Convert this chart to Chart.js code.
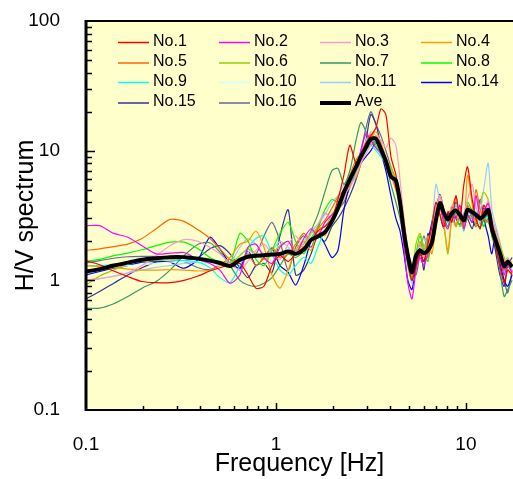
<!DOCTYPE html>
<html>
<head>
<meta charset="utf-8">
<script src="https://cdn.jsdelivr.net/npm/chart.js@4.4.1/dist/chart.umd.min.js"></script>
<style>
  html, body { margin: 0; padding: 0; background: #ffffff; }
  #wrap { width: 513px; height: 479px; }
</style>
</head>
<body>
<div id="wrap"><canvas id="hv" width="513" height="479"></canvas></div>
<script>
// Frequency samples [Hz]
const frequencies = [
  0.1, 0.118, 0.140, 0.166, 0.197, 0.234, 0.277, 0.328, 0.389, 0.449, 0.507,
  0.573, 0.646, 0.712, 0.785, 0.865, 0.953, 1.05, 1.16, 1.27, 1.40, 1.53,
  1.66, 1.81, 1.97, 2.12, 2.28, 2.45, 2.64, 2.80, 2.98, 3.16, 3.36,
  3.57, 3.79, 4.03, 4.28, 4.50, 4.72, 4.95, 5.20, 5.46, 5.73, 6.01,
  6.31, 6.62, 6.95, 7.30, 7.66, 8.04, 8.44, 8.86, 9.30, 9.76, 10.2,
  10.8, 11.3, 11.9, 12.4, 13.1, 13.7, 14.4, 15.1, 15.9, 16.6, 17.5
];

// H/V spectral ratios of each station
const no1 = [
  1.42, 1.32, 1.18, 1.07, 0.98, 0.96, 0.96, 1.0, 1.08, 1.18, 1.25,
  1.32, 1.35, 1.1, 0.87, 0.9, 1.3, 1.55, 1.4, 1.6, 1.8, 2.0,
  2.4, 2.6, 3.0, 4.2, 6.5, 11.0, 8.0, 9.5, 11.5, 13.0, 15.0,
  21.0, 19.0, 9.0, 6.5, 4.0, 2.2, 1.4, 1.0, 1.3, 1.6, 1.4,
  1.9, 2.6, 4.0, 3.2, 2.6, 3.4, 2.8, 4.5, 3.0, 5.5, 7.5,
  4.2, 3.0, 2.5, 3.8, 3.2, 2.4, 1.8, 1.3, 0.95, 1.2, 1.1
];
const no2 = [
  2.64, 2.64, 2.3, 2.15, 1.85, 1.6, 1.62, 1.64, 1.45, 1.35, 1.2,
  0.95, 1.1, 1.8, 1.9, 1.5, 1.35, 1.8, 2.0, 1.6, 2.1, 2.5,
  2.2, 2.8, 3.2, 3.6, 4.5, 6.0, 7.5, 10.0, 13.5, 12.0, 10.5,
  9.5, 8.0, 6.5, 5.5, 3.5, 1.8, 0.95, 0.72, 1.2, 1.5, 1.3,
  1.6, 1.9, 3.0, 3.6, 2.8, 2.5, 3.2, 3.0, 3.8, 2.5, 3.2,
  2.8, 4.5, 3.0, 3.4, 3.9, 2.9, 2.0, 1.5, 1.1, 1.3, 1.15
];
const no3 = [
  1.01, 1.03, 1.07, 1.14, 1.3, 1.55, 1.85, 2.06, 2.0, 1.8, 1.6,
  1.35, 1.2, 1.4, 1.7, 1.9, 1.6, 1.45, 1.9, 2.2, 1.8, 2.3,
  2.7, 3.3, 3.0, 3.6, 4.6, 5.2, 6.5, 8.0, 9.5, 11.0, 13.0,
  12.0, 10.5, 12.5, 11.0, 6.0, 3.0, 1.7, 1.2, 1.5, 1.9, 1.5,
  1.8, 2.4, 3.6, 4.5, 3.4, 3.0, 3.8, 3.4, 3.0, 3.3, 4.2,
  5.5, 3.6, 3.2, 3.0, 4.2, 3.0, 2.4, 1.8, 1.4, 1.5, 1.3
];
const no4 = [
  1.3, 1.28, 1.25, 1.22, 1.2, 1.2, 1.21, 1.2, 1.18, 1.2, 1.3,
  1.5, 1.9, 2.0, 2.4, 1.8, 1.1, 0.87, 1.2, 1.7, 2.0, 1.7,
  2.4, 2.2, 3.0, 3.4, 4.3, 5.5, 6.2, 8.0, 10.5, 12.5, 14.0,
  11.5, 9.0, 7.0, 6.0, 4.5, 2.8, 1.5, 1.1, 1.4, 2.0, 1.5,
  2.2, 1.6, 2.6, 3.8, 2.7, 1.7, 3.0, 2.6, 3.6, 2.5, 6.5,
  3.8, 2.6, 3.4, 3.0, 4.0, 2.8, 2.2, 1.7, 1.3, 1.2, 1.1
];
const no5 = [
  1.70, 1.75, 1.82, 1.9, 2.1, 2.5, 2.95, 2.85, 2.45, 2.1, 1.75,
  1.45, 1.4, 1.6, 1.3, 1.5, 1.8, 1.5, 1.6, 1.9, 2.3, 2.0,
  2.5, 2.9, 3.6, 4.4, 5.0, 6.5, 8.5, 9.5, 11.0, 13.5, 12.0,
  10.0, 8.0, 6.5, 5.0, 3.8, 2.2, 1.4, 1.1, 1.5, 1.9, 1.6,
  1.5, 2.0, 3.5, 4.5, 3.2, 3.0, 3.6, 4.4, 3.0, 2.6, 3.8,
  3.2, 5.0, 3.5, 3.0, 2.8, 2.4, 2.0, 1.5, 1.2, 1.3, 1.15
];
const no6 = [
  0.92, 1.08, 1.2, 1.35, 1.4, 1.42, 1.45, 1.48, 1.45, 1.42, 1.4,
  1.35, 1.55, 1.75, 1.6, 1.45, 1.6, 1.85, 2.0, 1.7, 1.9, 2.3,
  2.5, 2.6, 3.2, 3.8, 4.6, 5.8, 7.0, 9.0, 11.5, 13.0, 12.5,
  10.0, 8.5, 7.5, 5.8, 4.0, 2.5, 1.5, 1.15, 1.9, 2.3, 1.8,
  1.6, 2.4, 3.4, 3.2, 2.6, 1.6, 3.0, 3.6, 2.9, 2.5, 3.2,
  3.0, 2.8, 4.0, 4.8, 4.2, 3.0, 2.4, 1.9, 1.5, 1.3, 1.4
];
const no7 = [
  0.61, 0.61, 0.66, 0.75, 0.87, 0.98, 1.2, 1.55, 1.9, 1.95, 1.65,
  1.3, 1.0, 0.92, 0.9, 0.95, 1.05, 1.3, 1.6, 1.5, 1.7, 2.4,
  3.2, 4.8, 7.0, 7.3, 5.5, 7.0, 12.0, 16.5, 14.0, 11.0, 12.0,
  10.5, 8.0, 5.5, 4.0, 3.0, 2.0, 1.3, 1.0, 1.4, 1.7, 1.5,
  2.0, 2.4, 3.3, 3.6, 3.0, 2.6, 3.1, 3.3, 3.5, 2.6, 3.0,
  3.2, 2.7, 2.6, 2.9, 3.3, 2.2, 1.8, 1.2, 0.75, 0.85, 1.0
];
const no8 = [
  1.40, 1.45, 1.55, 1.62, 1.72, 1.85, 1.97, 1.97, 1.75, 1.5, 1.38,
  1.35, 2.3, 2.0, 1.45, 1.3, 1.7, 2.3, 2.8, 2.0, 1.6, 2.1,
  2.6, 3.5, 4.2, 4.0, 4.5, 5.8, 8.0, 9.5, 10.5, 12.5, 11.0,
  9.5, 8.0, 6.8, 5.5, 3.8, 2.3, 1.4, 1.05, 1.6, 2.2, 1.7,
  1.4, 2.2, 3.5, 3.9, 3.0, 2.6, 3.6, 3.2, 2.6, 3.0, 4.0,
  3.4, 2.8, 3.2, 2.6, 3.5, 2.5, 2.0, 1.6, 1.2, 1.45, 1.25
];
const no9 = [
  1.3, 1.3, 1.32, 1.38, 1.42, 1.45, 1.45, 1.42, 1.38, 1.25, 1.05,
  0.96, 1.3, 1.75, 2.1, 2.2, 1.6, 1.2, 1.1, 1.3, 1.5, 1.35,
  1.8, 2.4, 2.8, 3.4, 4.4, 5.5, 7.0, 8.5, 10.0, 11.0, 10.0,
  9.0, 8.0, 7.2, 6.0, 4.2, 2.6, 1.5, 1.1, 1.6, 1.7, 1.9,
  1.5, 2.3, 3.8, 3.6, 3.2, 2.8, 3.0, 3.9, 3.2, 2.4, 3.6,
  3.1, 3.4, 2.7, 3.5, 3.0, 2.5, 2.1, 1.5, 1.15, 1.35, 1.2
];
const no10 = [
  1.2, 1.22, 1.26, 1.3, 1.32, 1.35, 1.38, 1.4, 1.4, 1.35, 1.3,
  1.25, 1.6, 1.7, 1.5, 1.3, 1.5, 1.9, 1.7, 1.5, 1.9, 2.2,
  2.3, 2.6, 3.0, 3.8, 5.0, 6.0, 7.5, 9.0, 10.5, 12.0, 12.5,
  11.0, 9.0, 6.5, 6.0, 4.5, 2.6, 1.6, 1.2, 1.7, 1.8, 1.7,
  1.8, 2.2, 3.3, 4.1, 3.2, 3.0, 3.3, 3.6, 3.2, 2.9, 3.4,
  3.4, 3.2, 3.0, 3.4, 3.7, 2.8, 2.2, 1.7, 1.3, 1.45, 1.3
];
const no11 = [
  0.99, 1.03, 1.08, 1.14, 1.2, 1.26, 1.3, 1.35, 1.38, 1.35, 1.3,
  1.35, 1.8, 2.1, 1.9, 1.6, 1.7, 2.0, 1.8, 1.6, 2.0, 2.4,
  2.7, 3.2, 4.0, 4.5, 5.5, 6.2, 7.5, 9.5, 12.0, 14.0, 13.0,
  10.5, 8.5, 7.0, 5.0, 3.5, 2.2, 1.3, 0.95, 1.5, 1.9, 2.1,
  1.9, 2.5, 5.5, 4.0, 3.0, 2.8, 3.5, 3.8, 3.3, 3.0, 3.2,
  3.6, 3.0, 3.4, 5.0, 8.0, 3.5, 2.6, 2.0, 1.4, 1.2, 1.3
];
const no14 = [
  1.10, 1.17, 1.24, 1.3, 1.38, 1.40, 1.38, 1.24, 1.45, 2.15, 1.75,
  1.35, 1.25, 1.7, 1.3, 1.5, 1.75, 1.3, 1.15, 0.92, 1.3, 2.0,
  2.3, 1.9, 1.5, 1.7, 3.5, 5.5, 7.0, 8.0, 9.0, 10.0, 11.5,
  9.5, 7.0, 4.5, 3.0, 2.4, 1.6, 1.0, 0.85, 1.3, 1.6, 1.4,
  2.0, 2.8, 3.8, 3.2, 2.5, 3.3, 2.9, 4.0, 3.0, 2.7, 3.6,
  3.0, 2.6, 4.2, 3.0, 2.2, 1.6, 2.5, 1.4, 1.0, 0.9, 1.1
];
const no15 = [
  0.72, 0.82, 0.95, 1.1, 1.25, 1.38, 1.40, 1.42, 1.5, 1.75, 1.85,
  1.6, 1.25, 1.05, 1.3, 1.35, 1.15, 2.2, 3.5, 1.1, 1.2, 1.6,
  2.2, 2.0, 2.6, 3.0, 3.6, 4.5, 6.0, 8.0, 12.0, 19.0, 16.0,
  11.0, 8.5, 6.5, 5.5, 4.0, 2.4, 1.5, 1.1, 1.3, 1.8, 1.2,
  2.3, 1.9, 3.4, 4.6, 3.5, 2.9, 3.7, 3.0, 2.7, 3.3, 3.0,
  2.5, 3.2, 2.9, 3.6, 3.2, 2.5, 1.6, 1.1, 0.9, 1.3, 1.5
];
const no16 = [
  1.36, 1.42, 1.48, 1.52, 1.53, 1.53, 1.50, 1.40, 1.25, 1.21, 1.32,
  1.45, 1.2, 1.7, 1.6, 2.2, 2.8, 2.0, 1.2, 1.8, 2.2, 1.8,
  2.5, 3.3, 3.0, 3.5, 4.0, 5.2, 7.0, 10.0, 15.0, 20.0, 16.0,
  13.0, 10.0, 7.5, 6.0, 4.5, 2.8, 1.7, 1.3, 1.1, 1.6, 2.2,
  1.7, 2.0, 3.0, 3.8, 3.0, 3.2, 3.5, 2.6, 3.2, 3.0, 3.2,
  2.8, 3.0, 3.1, 2.6, 3.0, 2.2, 1.7, 1.3, 1.0, 0.8, 1.2
];
// Average over all stations
const average = [
  1.17, 1.22, 1.30, 1.37, 1.44, 1.48, 1.51, 1.51, 1.47, 1.42, 1.36,
  1.29, 1.44, 1.52, 1.55, 1.56, 1.58, 1.60, 1.67, 1.60, 1.72, 2.05,
  2.18, 2.35, 2.85, 3.6, 4.8, 6.0, 7.5, 9.0, 10.6, 12.3, 12.4,
  10.3, 8.3, 6.3, 5.9, 4.0, 2.35, 1.55, 1.15, 1.55, 1.7, 1.62,
  1.7, 1.95, 2.9, 3.95, 3.3, 2.95, 3.3, 3.45, 3.2, 2.9, 3.5,
  3.35, 3.2, 3.0, 3.15, 3.5, 2.5, 2.0, 1.63, 1.28, 1.39, 1.27
];

const stationNames = ['No.1', 'No.2', 'No.3', 'No.4', 'No.5', 'No.6', 'No.7',
  'No.8', 'No.9', 'No.10', 'No.11', 'No.14', 'No.15', 'No.16'];
const stationValues = [no1, no2, no3, no4, no5, no6, no7, no8, no9, no10, no11, no14, no15, no16];
const stationColors = ['#FF0000', '#FF00FF', '#FF99CC', '#FF9900', '#FF6600', '#99CC00', '#339966',
  '#00FF00', '#00FFFF', '#CCFFFF', '#99CCFF', '#0000FF', '#333399', '#666699'];
const averageName = 'Ave';

const xTickValues = [0.1, 1, 10];
const yTickValues = [0.1, 1, 10, 100];
const xRange = [0.1, 17.7];
const yRange = [0.1, 100];

const FONT = "'Liberation Sans', Arial, Helvetica, sans-serif";

function toPoints(values) {
  return frequencies.map((f, i) => ({ x: f, y: values[i] }));
}

const datasets = stationNames.map((name, k) => ({
  label: name,
  data: toPoints(stationValues[k]),
  borderColor: stationColors[k],
  borderWidth: 1.2,
  pointRadius: 0,
  tension: 0.25,
  fill: false
}));
datasets.push({
  label: averageName,
  data: toPoints(average),
  borderColor: '#000000',
  borderWidth: 4,
  pointRadius: 0,
  tension: 0.25,
  fill: false,
  order: -1
});

// Log-axis minor tick values within a range
function minorValues(lo, hi) {
  const out = [];
  for (let d = lo; d < hi; d *= 10) {
    for (let k = 2; k <= 9; k++) {
      const v = +(k * d).toPrecision(3);
      if (v < hi) out.push(v);
    }
  }
  return out;
}

const plotDecor = {
  id: 'plotDecor',
  beforeDraw(chart) {
    const { ctx, chartArea: a } = chart;
    ctx.save();
    ctx.fillStyle = '#FFFFCC';
    ctx.fillRect(a.left, a.top, a.right - a.left, a.bottom - a.top);
    ctx.restore();
  },
  afterDatasetsDraw(chart) {
    // legend: four columns inside the plot area
    const { ctx, chartArea: a } = chart;
    const colOffsets = [32, 133, 234, 335];
    const rowOffsets = [21.5, 42, 61.5, 82];
    ctx.save();
    ctx.font = '16px ' + FONT;
    ctx.textBaseline = 'middle';
    ctx.textAlign = 'left';
    chart.data.datasets.forEach((ds, i) => {
      const x = a.left + colOffsets[i % 4];
      const y = a.top + rowOffsets[Math.floor(i / 4)];
      ctx.strokeStyle = ds.borderColor;
      ctx.lineWidth = ds.borderWidth >= 3 ? 4 : 1.5;
      ctx.beginPath();
      ctx.moveTo(x, y);
      ctx.lineTo(x + 31, y);
      ctx.stroke();
      ctx.fillStyle = '#000000';
      ctx.fillText(ds.label, x + 35, y - 1);
    });
    ctx.restore();
  },
  afterDraw(chart) {
    const { ctx, chartArea: a } = chart;
    const xs = chart.scales.x, ys = chart.scales.y;
    ctx.save();
    ctx.strokeStyle = '#000000';
    // frame: left, bottom, top
    ctx.lineWidth = 2;
    ctx.beginPath();
    ctx.moveTo(a.left, a.top); ctx.lineTo(a.right, a.top);
    ctx.moveTo(a.left, a.bottom); ctx.lineTo(a.right, a.bottom);
    ctx.stroke();
    ctx.lineWidth = 3;
    ctx.beginPath();
    ctx.moveTo(a.left, a.top - 1); ctx.lineTo(a.left, a.bottom + 1);
    ctx.stroke();
    // inward tick marks
    ctx.lineWidth = 1.5;
    ctx.beginPath();
    minorValues(xRange[0], xRange[1]).forEach(v => {
      const px = Math.round(xs.getPixelForValue(v)) + 0.5;
      ctx.moveTo(px, a.bottom); ctx.lineTo(px, a.bottom - 4);
    });
    xTickValues.forEach(v => {
      if (v <= xRange[0]) return;
      const px = Math.round(xs.getPixelForValue(v)) + 0.5;
      ctx.moveTo(px, a.bottom); ctx.lineTo(px, a.bottom - 7);
    });
    minorValues(yRange[0], yRange[1]).forEach(v => {
      const py = Math.round(ys.getPixelForValue(v)) + 0.5;
      ctx.moveTo(a.left, py); ctx.lineTo(a.left + 6, py);
    });
    yTickValues.forEach(v => {
      if (v <= yRange[0] || v >= yRange[1]) return;
      const py = Math.round(ys.getPixelForValue(v)) + 0.5;
      ctx.moveTo(a.left, py); ctx.lineTo(a.left + 9, py);
    });
    ctx.stroke();
    ctx.restore();
  }
};

new Chart(document.getElementById('hv'), {
  type: 'line',
  data: { datasets },
  options: {
    responsive: false,
    animation: false,
    devicePixelRatio: 1,
    layout: { padding: { top: 21, right: 0, bottom: 0, left: 0 } },
    plugins: { legend: { display: false }, tooltip: { enabled: false } },
    scales: {
      x: {
        type: 'logarithmic',
        min: xRange[0],
        max: xRange[1],
        afterBuildTicks(scale) { scale.ticks = xTickValues.map(v => ({ value: v })); },
        afterFit(scale) { scale.height = 69; scale.paddingLeft = 0; scale.paddingRight = 0; },
        grid: { display: false },
        border: { display: false },
        ticks: {
          color: '#000000',
          font: { family: FONT, size: 19 },
          padding: 15,
          maxRotation: 0,
          autoSkip: false,
          callback: v => String(v)
        },
        title: {
          display: true,
          text: 'Frequency [Hz]',
          color: '#000000',
          font: { family: FONT, size: 25, lineHeight: 1.2 },
          padding: { top: 0, bottom: 0 }
        }
      },
      y: {
        type: 'logarithmic',
        min: yRange[0],
        max: yRange[1],
        afterBuildTicks(scale) { scale.ticks = yTickValues.map(v => ({ value: v })); },
        afterFit(scale) { scale.width = 86; scale.paddingTop = 0; scale.paddingBottom = 0; },
        grid: { display: false },
        border: { display: false },
        ticks: {
          color: '#000000',
          font: { family: FONT, size: 19 },
          padding: 18,
          autoSkip: false,
          callback: v => String(v)
        },
        title: {
          display: true,
          text: 'H/V spectrum',
          color: '#000000',
          font: { family: FONT, size: 25, lineHeight: 1.2 },
          padding: { top: 11, bottom: 0 }
        }
      }
    }
  },
  plugins: [plotDecor]
});
</script>
</body>
</html>
